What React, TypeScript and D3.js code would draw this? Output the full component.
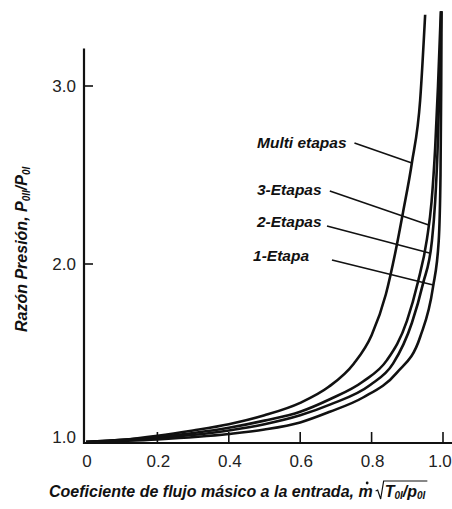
import React, { useEffect, useRef } from 'react';
import * as d3 from 'd3';

// Tick values
const xTicks = [0, 0.2, 0.4, 0.6, 0.8, 1.0];
const yTicks = [1.0, 2.0, 3.0];

// Curves: [flow coefficient, pressure ratio]
const multiEtapas: [number, number][] = [
  [0, 1.0], [0.1, 1.012], [0.2, 1.035], [0.3, 1.065], [0.4, 1.1], [0.5, 1.15],
  [0.6, 1.22], [0.68, 1.31], [0.75, 1.44], [0.8, 1.6], [0.84, 1.83], [0.866, 2.06],
  [0.888, 2.29], [0.913, 2.57], [0.936, 2.92], [0.95, 3.4],
];
const tresEtapas: [number, number][] = [
  [0, 1.0], [0.2, 1.028], [0.4, 1.08], [0.5, 1.12], [0.6, 1.17], [0.683, 1.24],
  [0.776, 1.34], [0.843, 1.46], [0.899, 1.68], [0.93, 1.9], [0.955, 2.14],
  [0.968, 2.35], [0.978, 2.65], [0.986, 3.0], [0.994, 3.42],
];
const dosEtapas: [number, number][] = [
  [0, 1.0], [0.2, 1.022], [0.4, 1.065], [0.5, 1.1], [0.6, 1.15], [0.683, 1.21],
  [0.796, 1.32], [0.86, 1.44], [0.913, 1.67], [0.944, 1.89], [0.969, 2.13],
  [0.978, 2.35], [0.985, 2.65], [0.99, 3.0], [0.995, 3.42],
];
const unaEtapa: [number, number][] = [
  [0, 1.0], [0.2, 1.015], [0.4, 1.045], [0.5, 1.07], [0.6, 1.11], [0.683, 1.17],
  [0.776, 1.25], [0.871, 1.39], [0.936, 1.59], [0.972, 1.87], [0.988, 2.13],
  [0.993, 2.5], [0.995, 3.0], [0.996, 3.42],
];

const seriesNames = ['Multi etapas', '3-Etapas', '2-Etapas', '1-Etapa'];
const seriesData = [multiEtapas, tresEtapas, dosEtapas, unaEtapa];

// label placement in data units: text anchor, leader start, pressure ratio where leader hits curve
const labelLayout = [
  { at: [0.479, 2.652], from: [0.752, 2.68], toY: 2.567 },
  { at: [0.479, 2.388], from: [0.683, 2.41], toY: 2.219 },
  { at: [0.479, 2.208], from: [0.675, 2.213], toY: 2.062 },
  { at: [0.468, 2.017], from: [0.689, 2.022], toY: 1.882 },
];

const FONT = '"Liberation Sans", Arial, sans-serif';

// x on a curve at a given pressure ratio (curves rise monotonically)
const xAtY = (pts: [number, number][], v: number) => {
  for (let i = 1; i < pts.length; i++) {
    const [x0, y0] = pts[i - 1];
    const [x1, y1] = pts[i];
    if (v >= y0 && v <= y1) return x0 + ((v - y0) / (y1 - y0)) * (x1 - x0);
  }
  return pts[pts.length - 1][0];
};

const App = () => {
  const ref = useRef<SVGSVGElement>(null);

  useEffect(() => {
    if (!ref.current) return;
    const svg = d3.select(ref.current);
    svg.selectAll('*').remove();

    const x = d3.scaleLinear().domain([0, 1]).range([86, 443]);
    const y = d3.scaleLinear().domain([1, 3]).range([442, 86]);

    const axisX = x(0) - 2; // y axis line sits just left of zero
    const axisY = y(1) + 1;

    // axes
    svg.append('line')
      .attr('x1', axisX).attr('x2', axisX)
      .attr('y1', y(3.21)).attr('y2', axisY + 1)
      .attr('stroke', '#111').attr('stroke-width', 2.2);
    svg.append('line')
      .attr('x1', axisX - 1).attr('x2', x(1.03))
      .attr('y1', axisY).attr('y2', axisY)
      .attr('stroke', '#111').attr('stroke-width', 2.2);

    // ticks point inward
    svg.selectAll('.xtick')
      .data(xTicks.filter((d) => d > 0))
      .join('line')
      .attr('x1', (d) => x(d)).attr('x2', (d) => x(d))
      .attr('y1', axisY).attr('y2', axisY - 11)
      .attr('stroke', '#111').attr('stroke-width', 1.6);
    svg.selectAll('.ytick')
      .data(yTicks.filter((d) => d > 1))
      .join('line')
      .attr('x1', axisX).attr('x2', axisX + 9)
      .attr('y1', (d) => y(d)).attr('y2', (d) => y(d))
      .attr('stroke', '#111').attr('stroke-width', 1.6);

    svg.selectAll('.xlab')
      .data(xTicks)
      .join('text')
      .attr('x', (d) => x(d) + (d === 1 ? -3 : 1))
      .attr('y', 467)
      .attr('text-anchor', 'middle')
      .attr('font-family', FONT).attr('font-size', 17).attr('fill', '#222')
      .text((d) => (d === 0 ? '0' : d.toFixed(1)));
    svg.selectAll('.ylab')
      .data(yTicks)
      .join('text')
      .attr('x', 76)
      .attr('y', (d) => y(d) - (d === 1 ? 5 : 0))
      .attr('dy', '0.36em')
      .attr('text-anchor', 'end')
      .attr('font-family', FONT).attr('font-size', 17).attr('fill', '#222')
      .text((d) => d.toFixed(1));

    // curves
    const line = d3.line<[number, number]>()
      .x((d) => x(d[0]))
      .y((d) => y(d[1]))
      .curve(d3.curveMonotoneX);

    svg.selectAll('.curve')
      .data(seriesData)
      .join('path')
      .attr('d', (d) => line(d))
      .attr('fill', 'none')
      .attr('stroke', '#111')
      .attr('stroke-width', 2.6)
      .attr('stroke-linejoin', 'round');

    // curve labels and leaders
    labelLayout.forEach((l, i) => {
      svg.append('text')
        .attr('x', x(l.at[0])).attr('y', y(l.at[1]))
        .attr('font-family', FONT).attr('font-size', 15.5)
        .attr('font-weight', 'bold').attr('font-style', 'italic')
        .attr('fill', '#111')
        .text(seriesNames[i]);
      svg.append('line')
        .attr('x1', x(l.from[0])).attr('y1', y(l.from[1]))
        .attr('x2', x(xAtY(seriesData[i], l.toY))).attr('y2', y(l.toY))
        .attr('stroke', '#111').attr('stroke-width', 1.6);
    });

    // x axis title with m-dot and radical
    const base = 497;
    const t1 = svg.append('text')
      .attr('x', 49).attr('y', base)
      .attr('font-family', FONT).attr('font-size', 16)
      .attr('font-weight', 'bold').attr('font-style', 'italic').attr('fill', '#111')
      .text('Coeficiente de flujo másico a la entrada, m');
    const endX = 49 + (t1.node() as SVGTextElement).getComputedTextLength();
    svg.append('circle').attr('cx', endX - 5.5).attr('cy', base - 14).attr('r', 1.4).attr('fill', '#111');
    const inner = svg.append('text')
      .attr('x', endX + 12).attr('y', base)
      .attr('font-family', FONT).attr('font-size', 16)
      .attr('font-weight', 'bold').attr('font-style', 'italic').attr('fill', '#111');
    inner.append('tspan').text('T');
    inner.append('tspan').attr('font-size', 10).attr('dy', 2).text('0I');
    inner.append('tspan').attr('dy', -2).text('/p');
    inner.append('tspan').attr('font-size', 10).attr('dy', 2).text('0I');
    const w2 = (inner.node() as SVGTextElement).getComputedTextLength();
    svg.append('path')
      .attr('d', `M${endX + 3},${base - 6} L${endX + 5},${base - 7} L${endX + 8},${base + 2} L${endX + 11},${base - 16} L${endX + 14 + w2},${base - 16}`)
      .attr('fill', 'none').attr('stroke', '#111').attr('stroke-width', 1.2);

    // y axis title
    const yt = svg.append('text')
      .attr('transform', 'translate(27,332) rotate(-90)')
      .attr('font-family', FONT).attr('font-size', 16)
      .attr('font-weight', 'bold').attr('font-style', 'italic').attr('fill', '#111');
    yt.append('tspan').text('Razón Presión, P');
    yt.append('tspan').attr('font-size', 10).attr('dy', 3).text('0II');
    yt.append('tspan').attr('dy', -3).text('/P');
    yt.append('tspan').attr('font-size', 10).attr('dy', 3).text('0I');
  }, []);

  return (
    <svg
      ref={ref}
      width={452}
      height={509}
      style={{ position: 'absolute', left: 0, top: 0, background: '#fff' }}
    />
  );
};

export default App;
